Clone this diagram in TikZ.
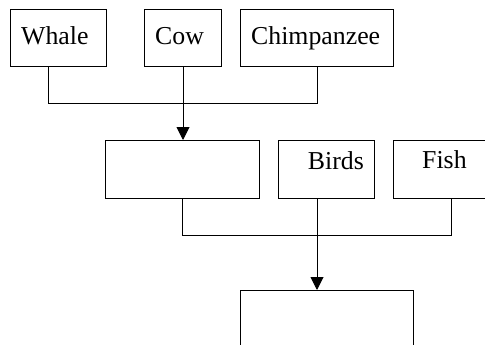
\documentclass[tikz,border=0pt]{standalone}
\usepackage{fontspec}
\setmainfont{Liberation Serif}
\usetikzlibrary{arrows.meta}
\begin{document}
\begin{tikzpicture}[x=1pt,y=-1pt,
  box/.style={draw,line width=1pt,rectangle,inner sep=0pt,anchor=north west},
  txt/.style={inner sep=0pt,font=\fontsize{25.8}{30}\selectfont},
  conn/.style={line width=1pt},
  arr/.style={line width=1pt,-{Triangle[width=13pt,length=13pt]}}]
\useasboundingbox (0,0) rectangle (485,345);
\clip (0,0) rectangle (485,345);
% top row
\node[box,minimum width=96,minimum height=57] (whale) at (10,9) {};
\node[box,minimum width=77,minimum height=57] (cow) at (144,9) {};
\node[box,minimum width=153,minimum height=57] (chimp) at (240,9) {};
\node[txt,anchor=base west] (whalet) at (21,45) {Whale};
\node[txt,anchor=base west] (cowt) at (155,45) {Cow};
\node[txt,anchor=base west] (chimpt) at (251,45) {Chimpanzee};
% middle row
\node[box,minimum width=154,minimum height=58] (mid) at (105,140) {};
\node[box,minimum width=96,minimum height=58] (birds) at (278,140) {};
\node[box,minimum width=110,minimum height=58] (fish) at (393,140) {};
\node[txt,anchor=base east] (birdst) at (364,169) {Birds};
\node[txt,anchor=base west] (fisht) at (422,168) {Fish};
% bottom
\node[box,minimum width=173,minimum height=80] (bottom) at (240,290) {};
% connectors
\draw[conn] ([xshift=38pt]whale.south west) -- ++(0,37) -| ([xshift=77pt]chimp.south west);
\draw[arr] (cow.south) -- (cow.south |- mid.north);
\draw[conn] (mid.south) -- ++(0,36) -| ([xshift=58pt]fish.south west);
\draw[arr] ([xshift=39pt]birds.south west) -- ([xshift=39pt]birds.south west |- bottom.north);
\end{tikzpicture}
\end{document}
